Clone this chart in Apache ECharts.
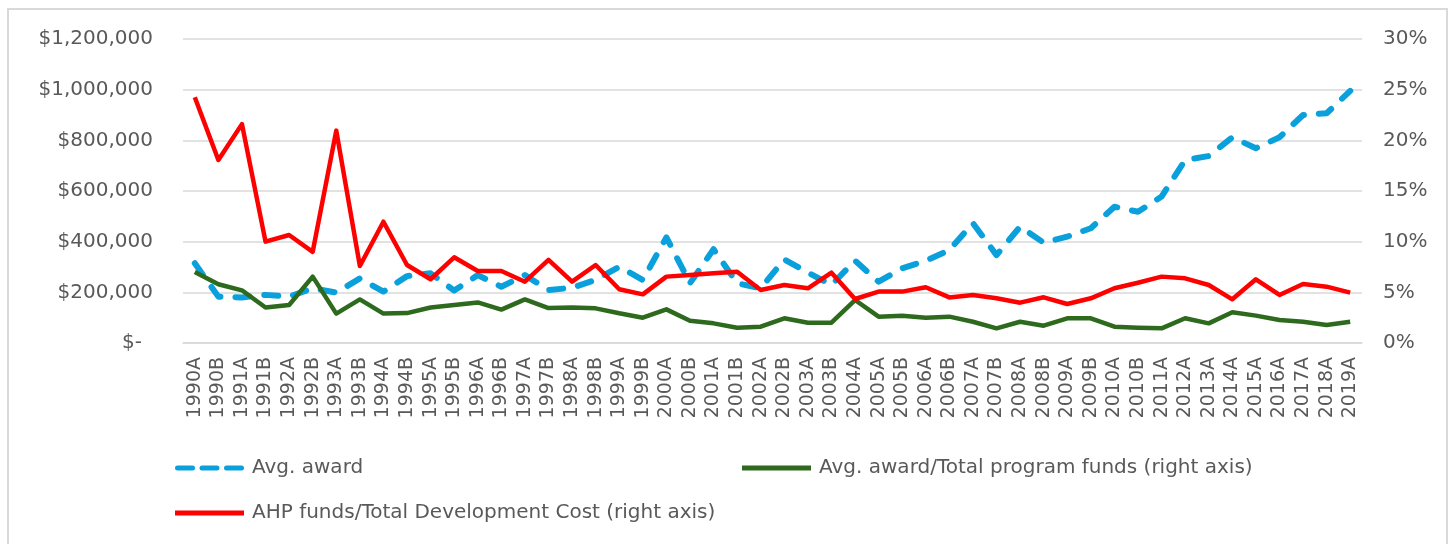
<!DOCTYPE html>
<html>
<head>
<meta charset="utf-8">
<script src="https://cdn.jsdelivr.net/npm/echarts@6/dist/echarts.min.js"></script>
<style>
html,body{margin:0;padding:0;background:#fff;}
#chart{width:1453px;height:544px;}
</style>
</head>
<body>
<div id="chart"></div>
<script>
const categories = ['1990A','1990B','1991A','1991B','1992A','1992B','1993A','1993B','1994A','1994B',
  '1995A','1995B','1996A','1996B','1997A','1997B','1998A','1998B','1999A','1999B',
  '2000A','2000B','2001A','2001B','2002A','2002B','2003A','2003B','2004A','2005A',
  '2005B','2006A','2006B','2007A','2007B','2008A','2008B','2009A','2009B','2010A',
  '2010B','2011A','2012A','2013A','2014A','2015A','2016A','2017A','2018A','2019A'];

const avgAward = [315000,183000,180000,190000,183000,216000,199000,255000,203000,264000,
  275000,207000,268000,222000,268000,209000,218000,249000,301000,249000,
  417000,236000,370000,236000,216000,330000,278000,229000,325000,242000,
  295000,325000,367000,473000,347000,459000,396000,420000,453000,538000,
  518000,578000,722000,738000,812000,769000,812000,900000,907000,995000];

const awardShareOfFunds = [7.0,5.8,5.2,3.5,3.75,6.55,2.9,4.3,2.9,2.95,
  3.5,3.75,4.0,3.3,4.3,3.45,3.5,3.42,2.93,2.5,
  3.32,2.2,1.94,1.51,1.61,2.44,2.0,2.0,4.24,2.6,
  2.7,2.5,2.6,2.1,1.45,2.1,1.71,2.44,2.44,1.61,
  1.51,1.45,2.44,1.94,3.03,2.7,2.27,2.1,1.78,2.1];

const ahpShareOfTdc = [24.25,18.06,21.6,10.0,10.66,9.0,20.96,7.6,11.97,7.7,
  6.29,8.46,7.1,7.1,6.05,8.2,6.05,7.7,5.3,4.8,
  6.55,6.7,6.88,7.04,5.23,5.72,5.4,6.94,4.34,5.07,
  5.07,5.5,4.5,4.74,4.41,3.98,4.51,3.85,4.41,5.4,
  5.95,6.55,6.38,5.72,4.31,6.29,4.74,5.82,5.56,4.97];

const leftTicks = {min: 0, max: 1200000, interval: 200000};
const rightTicks = {min: 0, max: 30, interval: 5};

const names = ['Avg. award', 'Avg. award/Total program funds (right axis)', 'AHP funds/Total Development Cost (right axis)'];

const FONT = 'DejaVu Sans';
const TXT = '#595959';
const GRID = '#d9d9d9';

const chart = echarts.init(document.getElementById('chart'), null, {renderer: 'canvas'});

function fmtMoney(v) {
  if (v === 0) return '{z|$-}';
  return '$' + v.toString().replace(/\B(?=(\d{3})+(?!\d))/g, ',');
}

const legendBase = {
  orient: 'horizontal',
  itemWidth: 69,
  itemHeight: 5,
  selectedMode: false,
  itemStyle: {borderWidth: 0},
  textStyle: {fontFamily: FONT, fontSize: 20, color: TXT, padding: [0,0,0,3]}
};

const dashedIcon = 'path://M2.5,0h15a2.5,2.5 0 0 1 0,5h-15a2.5,2.5 0 0 1 0,-5z' +
  'M27,0h15a2.5,2.5 0 0 1 0,5h-15a2.5,2.5 0 0 1 0,-5z' +
  'M51.5,0h15a2.5,2.5 0 0 1 0,5h-15a2.5,2.5 0 0 1 0,-5z';

chart.setOption({
  animation: false,
  backgroundColor: '#fff',
  graphic: [{
    type: 'rect', silent: true, z: -10,
    shape: {x: 8, y: 9, width: 1439, height: 560},
    style: {fill: 'none', stroke: GRID, lineWidth: 2}
  }],
  grid: {left: 183, right: 91, top: 39, bottom: 201, containLabel: false},
  legend: [
    Object.assign({}, legendBase, {data: [{name: names[0], icon: dashedIcon}], left: 170, top: 453}),
    Object.assign({}, legendBase, {data: [{name: names[1], icon: 'rect'}], left: 737, top: 453}),
    Object.assign({}, legendBase, {data: [{name: names[2], icon: 'rect'}], left: 170, top: 498})
  ],
  xAxis: {
    type: 'category',
    data: categories,
    boundaryGap: true,
    axisLine: {show: true, lineStyle: {color: GRID, width: 1.5}},
    axisTick: {show: false},
    axisLabel: {rotate: 90, interval: 0, margin: 14, fontFamily: FONT, fontSize: 19, color: TXT}
  },
  yAxis: [{
    type: 'value',
    min: leftTicks.min, max: leftTicks.max, interval: leftTicks.interval,
    axisLine: {show: false}, axisTick: {show: false},
    splitLine: {show: true, lineStyle: {color: GRID, width: 1.5}},
    axisLabel: {margin: 30, fontFamily: FONT, fontSize: 20, color: TXT,
      formatter: fmtMoney,
      rich: {z: {fontFamily: FONT, fontSize: 20, color: TXT, padding: [0, 11, 0, 0]}}}
  }, {
    type: 'value',
    position: 'right',
    min: rightTicks.min, max: rightTicks.max, interval: rightTicks.interval,
    axisLine: {show: false}, axisTick: {show: false},
    splitLine: {show: false},
    axisLabel: {margin: 21, fontFamily: FONT, fontSize: 20, color: TXT, formatter: '{value}%'}
  }],
  series: [{
    name: names[0], type: 'line', yAxisIndex: 0, data: avgAward,
    symbol: 'none', z: 2,
    lineStyle: {color: '#0aa0dc', width: 6, type: [14, 15], cap: 'round', join: 'round'},
    itemStyle: {color: '#0aa0dc'}
  }, {
    name: names[1], type: 'line', yAxisIndex: 1, data: awardShareOfFunds,
    symbol: 'none', z: 3,
    lineStyle: {color: '#2d6a1d', width: 4.5, join: 'round'},
    itemStyle: {color: '#2d6a1d'}
  }, {
    name: names[2], type: 'line', yAxisIndex: 1, data: ahpShareOfTdc,
    symbol: 'none', z: 4,
    lineStyle: {color: '#ff0000', width: 4.5, join: 'round'},
    itemStyle: {color: '#ff0000'}
  }]
});
</script>
</body>
</html>
